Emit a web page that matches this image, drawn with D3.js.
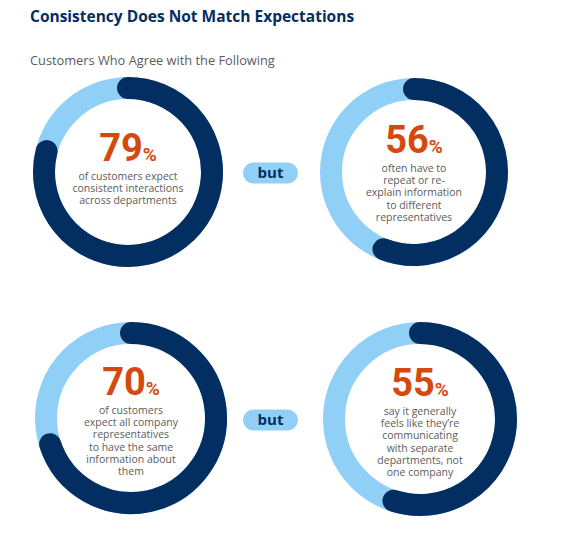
<!DOCTYPE html>
<html>
<head>
<meta charset="utf-8">
<script src="https://cdn.jsdelivr.net/npm/d3@7"></script>
<style>
  html, body { margin: 0; padding: 0; background: #fff; }
  svg { display: block; }
</style>
</head>
<body>
<svg id="chart"></svg>
<script>
// Chart data
const title = 'Consistency Does Not Match Expectations';
const subtitle = 'Customers Who Agree with the Following';
const percents = [79, 56, 70, 55];
const labels = [
  ['of customers expect', 'consistent interactions', 'across departments'],
  ['often have to', 'repeat or re-', 'explain information', 'to different', 'representatives'],
  ['of customers', 'expect all company', 'representatives', 'to have the same', 'information about', 'them'],
  ['say it generally', 'feels like they\u2019re', 'communicating', 'with separate', 'departments, not', 'one company']
];
const connector = 'but';

// Layout
const W = 564, H = 539;
const panels = [
  { cx: 128, cy: 172, r: 95 },
  { cx: 414, cy: 172, r: 94 },
  { cx: 131, cy: 418, r: 96 },
  { cx: 420, cy: 419, r: 97 }
];
const ringW = 22;
const NAVY = '#032e61', LIGHT = '#90d0f7', ORANGE = '#d4490f', GREY = '#5c5c5c';
const FONT = "'Open Sans', 'Noto Sans', sans-serif";

const svg = d3.select('#chart').attr('width', W).attr('height', H)
  .attr('viewBox', `0 0 ${W} ${H}`);

svg.append('text')
  .attr('x', 30).attr('y', 22)
  .attr('font-family', FONT).attr('font-weight', 700).attr('font-size', 15.5)
  .attr('fill', NAVY)
  .text(title);

svg.append('text')
  .attr('x', 30).attr('y', 65)
  .attr('font-family', FONT).attr('font-size', 12.8)
  .attr('fill', GREY)
  .text(subtitle);

// percent -> angle (canvas convention: 0 at 3 o'clock, start at 12 o'clock)
const angle = d3.scaleLinear().domain([0, 100]).range([-Math.PI / 2, Math.PI * 1.5]);

const g = svg.selectAll('g.donut')
  .data(percents)
  .join('g')
    .attr('class', 'donut');

g.each(function (v, i) {
  const p = panels[i];
  const sel = d3.select(this);
  const rMid = p.r - ringW / 2;

  sel.append('circle')
    .attr('cx', p.cx).attr('cy', p.cy).attr('r', rMid)
    .attr('fill', 'none')
    .attr('stroke', LIGHT)
    .attr('stroke-width', ringW);

  const path = d3.path();
  path.arc(p.cx, p.cy, rMid, angle(0), angle(v), false);
  sel.append('path')
    .attr('d', path.toString())
    .attr('fill', 'none')
    .attr('stroke', NAVY)
    .attr('stroke-width', ringW)
    .attr('stroke-linecap', 'round');

  const lines = labels[i];
  const numY = p.cy + 1 - 4 * lines.length;

  const num = sel.append('text')
    .attr('x', p.cx).attr('y', numY)
    .attr('text-anchor', 'middle')
    .attr('font-family', "'Liberation Sans Narrow', Roboto, sans-serif")
    .attr('font-weight', 700)
    .attr('fill', ORANGE);
  num.append('tspan').attr('font-size', 38).text(v);
  num.append('tspan').attr('font-size', 19).text('%');

  sel.append('g')
    .selectAll('text')
    .data(lines)
    .join('text')
      .attr('x', p.cx)
      .attr('y', (d, j) => numY + 19 + j * 12.2)
      .attr('text-anchor', 'middle')
      .attr('font-family', FONT)
      .attr('font-size', 10.5)
      .attr('fill', GREY)
      .text(d => d);
});

// "but" pills between the two columns
const pillY = [173, 420];
const pills = svg.selectAll('g.pill')
  .data(pillY)
  .join('g')
    .attr('class', 'pill')
    .attr('transform', d => `translate(270.5,${d})`);

pills.append('rect')
  .attr('x', -27.5).attr('y', -10.5)
  .attr('width', 55).attr('height', 21)
  .attr('rx', 10.5)
  .attr('fill', LIGHT);

pills.append('text')
  .attr('text-anchor', 'middle')
  .attr('dy', '0.36em')
  .attr('font-family', FONT)
  .attr('font-weight', 700)
  .attr('font-size', 15)
  .attr('fill', NAVY)
  .text(connector);
</script>
</body>
</html>
